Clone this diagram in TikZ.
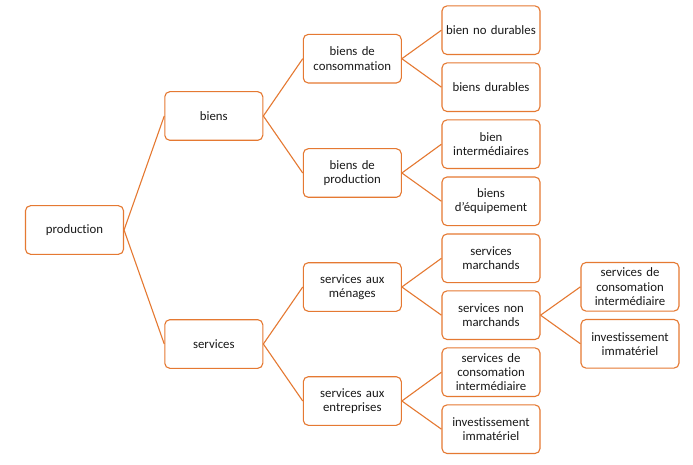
\documentclass[tikz,border=0pt]{standalone}
\usepackage{fontspec}
\setmainfont{Carlito}[Ligatures={NoCommon}]
\definecolor{accent}{RGB}{229,121,50}
\definecolor{txt}{RGB}{25,25,25}
\begin{document}
\begin{tikzpicture}[x=1pt,y=-1pt,
  box/.style={draw=accent, line width=1.1pt, rounded corners=5pt, fill=white,
    minimum width=98pt, minimum height=48.6pt, inner sep=1pt, align=center,
    text width=96pt, font=\fontsize{12.8pt}{14.3pt}\selectfont, text=txt},
  link/.style={draw=accent, line width=1.1pt}]
\useasboundingbox[fill=white] (0,0) rectangle (693,465);
\node[box] (prod) at (74.5,230) {production};
\node[box] (biens) at (213.8,116) {biens};
\node[box] (serv) at (213.8,344) {services};
\node[box] (bc) at (352.3,58.7) {biens de\\consommation};
\node[box] (bp) at (352.3,173) {biens de\\production};
\node[box] (sm) at (352.3,287) {services aux\\ménages};
\node[box] (se) at (352.3,401) {services aux\\entreprises};
\node[box] (bnd) at (491,30.2) {bien no durables};
\node[box] (bd) at (491,87.2) {biens durables};
\node[box] (bi) at (491,144.2) {bien\\intermédiaires};
\node[box] (be) at (491,201.3) {biens\\d'équipement};
\node[box] (smar) at (491,258.3) {services\\marchands};
\node[box] (snm) at (491,315.2) {services non\\marchands};
\node[box] (sci) at (491,372.2) {services de\\consomation\\intermédiaire};
\node[box] (ii) at (491,429.2) {investissement\\immatériel};
\node[box] (sci2) at (630,286.8) {services de\\consomation\\intermédiaire};
\node[box] (ii2) at (630,343.8) {investissement\\immatériel};
\foreach \a/\b in {prod/biens,prod/serv,biens/bc,biens/bp,serv/sm,serv/se,
  bc/bnd,bc/bd,bp/bi,bp/be,sm/smar,sm/snm,se/sci,se/ii,snm/sci2,snm/ii2}
  \draw[link] (\a.east) -- (\b.west);
\end{tikzpicture}
\end{document}
